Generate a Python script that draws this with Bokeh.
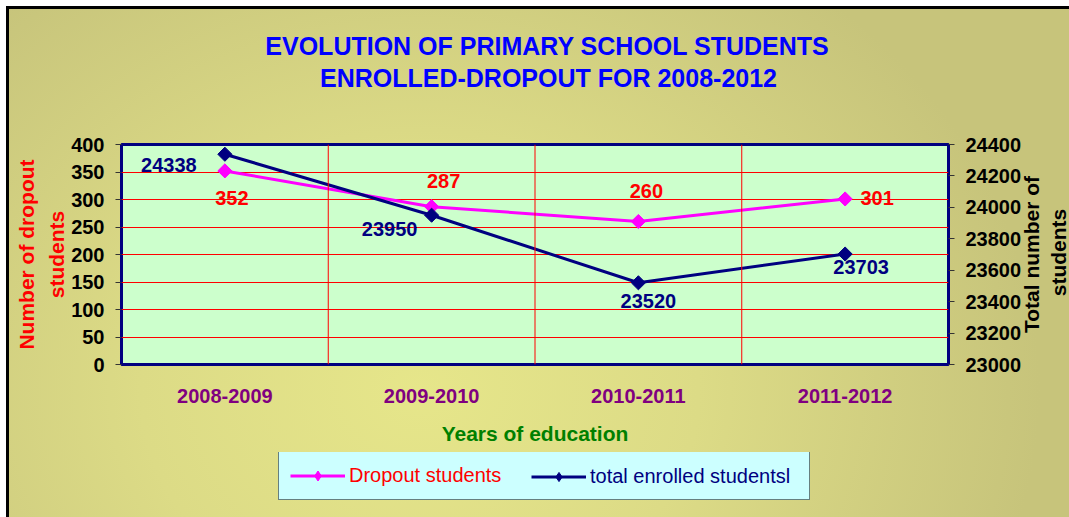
from bokeh.plotting import figure
from bokeh.layouts import column, row
from bokeh.models import (FactorRange, Range1d, LinearAxis, FixedTicker, Span, Label,
                          Legend, LegendItem)
from bokeh.core.properties import value
from bokeh.embed import file_html
from bokeh.resources import INLINE

# ---- data ----
years = ["2008-2009", "2009-2010", "2010-2011", "2011-2012"]
dropout = [352, 287, 260, 301]
enrolled = [24338, 23950, 23520, 23703]
left_ticks = [0, 50, 100, 150, 200, 250, 300, 350, 400]
right_ticks = [23000, 23200, 23400, 23600, 23800, 24000, 24200, 24400]
title_lines = ["EVOLUTION OF PRIMARY SCHOOL STUDENTS", "ENROLLED-DROPOUT FOR 2008-2012"]
series_names = ["Dropout students", "total enrolled studentsl"]
left_label = "Number of dropout\nstudents"
right_label_lines = ["Total number of", "students"]
x_label = "Years of education"

# ---- styles ----
FONT = "Liberation Sans"
PINK = "#FF00FF"
NAVY = "#000080"
drop_dx = [7, 12, 8, 32]
drop_dy = [27, -26, -31, -1]
enr_dx = [-56, -42, 10, 16]
enr_dy = [11, 14, 18, 13]
BG_CSS = {
    "background-color": "#D9D784",
    "background-image": "radial-gradient(ellipse 620px 520px at 420px 390px, "
                        "#E6E68A 0%, #DCDB86 45%, #C7C47B 100%)",
    "background-attachment": "fixed",
}
LEFT_EDGE = dict(BG_CSS, **{"margin-left": "6px", "border-left": "3px solid black"})


def blank_fig(w, h, bl, br, bt, bb, styles):
    f = figure(width=w, height=h, x_range=Range1d(0, 1), y_range=Range1d(0, 1),
               output_backend="svg", toolbar_location=None,
               x_axis_location=None, y_axis_location=None,
               min_border_left=bl, min_border_right=br,
               min_border_top=bt, min_border_bottom=bb)
    f.title.visible = False
    f.grid.visible = False
    f.outline_line_color = None
    f.background_fill_color = None
    f.border_fill_color = None
    f.styles = styles
    return f


def lab(f, x, y, text, color, size, angle=0.0):
    f.add_layout(Label(x=x, y=y, x_units="screen", y_units="screen", text=text,
                       text_align="center", text_baseline="middle", angle=angle,
                       text_color=color, text_font=FONT, text_font_style="bold",
                       text_font_size=size))


# ---------------- title strip ----------------
top = blank_fig(1063, 126, 112, 121, 0, 0,
                dict(LEFT_EDGE, **{"margin-top": "6px", "border-top": "3px solid black"}))
lab(top, 426, 90, title_lines[0], "#0000FF", "25px")
lab(top, 427, 58, title_lines[1], "#0000FF", "25px")

# ---------------- main chart ----------------
p = figure(width=1015, height=320, x_range=FactorRange(*years),
           y_range=Range1d(left_ticks[0], left_ticks[-1]),
           output_backend="svg", toolbar_location=None,
           min_border_left=112, min_border_right=73,
           min_border_top=12, min_border_bottom=88)
p.styles = dict(LEFT_EDGE)
p.title.visible = False
p.extra_y_ranges = {"total": Range1d(right_ticks[0], right_ticks[-1])}
p.border_fill_color = None
p.background_fill_color = "#CCFFCC"
p.outline_line_color = NAVY
p.outline_line_width = 3


def style_y(ax):
    ax.major_label_text_font = FONT
    ax.major_label_text_font_style = "bold"
    ax.major_label_text_font_size = "20px"
    ax.major_label_text_color = "black"
    ax.major_tick_out = 6
    ax.major_tick_in = 0
    ax.minor_tick_line_color = None
    ax.axis_line_color = None
    ax.major_tick_line_color = "#333333"
    ax.major_label_standoff = 11


ya = p.yaxis[0]
ya.ticker = FixedTicker(ticks=left_ticks)
style_y(ya)
ya.axis_label = left_label
ya.axis_label_text_font = FONT
ya.axis_label_text_font_style = "bold"
ya.axis_label_text_font_size = "21px"
ya.axis_label_standoff = 0
ya.axis_label_text_color = "#FF0000"
ya.axis_label_text_line_height = 1.3

ra = LinearAxis(y_range_name="total", ticker=FixedTicker(ticks=right_ticks))
style_y(ra)
p.add_layout(ra, "right")

xa = p.xaxis[0]
xa.major_label_text_font = FONT
xa.major_label_text_font_style = "bold"
xa.major_label_text_font_size = "20px"
xa.major_label_text_color = "#800080"
xa.major_tick_line_color = None
xa.axis_line_color = None
xa.major_label_standoff = 18
xa.axis_label = x_label
xa.axis_label_text_font = FONT
xa.axis_label_text_font_style = "bold"
xa.axis_label_text_font_size = "21px"
xa.axis_label_text_color = "#008000"
xa.axis_label_standoff = 16

p.xgrid.grid_line_color = None
p.ygrid.ticker = FixedTicker(ticks=left_ticks[1:-1])
p.ygrid.grid_line_color = "#FF0000"
p.ygrid.grid_line_width = 1
for i in range(1, len(years)):
    p.add_layout(Span(location=i, dimension="height", line_color="#FF0000", line_width=1))

p.line(years, dropout, line_color=PINK, line_width=3)
p.scatter(years, dropout, marker="square", angle=0.785398, size=10,
          fill_color=PINK, line_color=PINK)
p.line(years, enrolled, y_range_name="total", line_color=NAVY, line_width=3)
p.scatter(years, enrolled, y_range_name="total", marker="square", angle=0.785398,
          size=10, fill_color=NAVY, line_color=NAVY)

p.text(x=years, y=dropout, text=[str(v) for v in dropout], x_offset=drop_dx, y_offset=drop_dy,
       text_align="center", text_baseline="middle", text_color="#FF0000",
       text_font=value(FONT), text_font_style="bold", text_font_size="20px")
p.text(x=years, y=enrolled, text=[str(v) for v in enrolled], y_range_name="total",
       x_offset=enr_dx, y_offset=enr_dy,
       text_align="center", text_baseline="middle", text_color=NAVY,
       text_font=value(FONT), text_font_style="bold", text_font_size="20px")

# ---------------- right label strip ----------------
rs = blank_fig(48, 320, 0, 0, 12, 88, dict(BG_CSS))
lab(rs, 10, 110, right_label_lines[0], "black", "21px", angle=1.5708)
lab(rs, 37, 112, right_label_lines[1], "black", "21px", angle=1.5708)

# ---------------- legend strip ----------------
leg = blank_fig(1063, 65, 112, 121, 0, 0, dict(LEFT_EDGE))
# legend keys only (kept outside the strip's visible range)
k1 = leg.line(x=[0, 1], y=[5, 5], line_color=PINK, line_width=3)
m1 = leg.scatter(x=[0], y=[5], marker="diamond", size=19, fill_color=PINK, line_color=PINK)
k2 = leg.line(x=[0, 1], y=[5, 5], line_color=NAVY, line_width=3)
m2 = leg.scatter(x=[0], y=[5], marker="diamond", size=19, fill_color=NAVY, line_color=NAVY)
legA = Legend(items=[LegendItem(label=series_names[0], renderers=[k1, m1])],
              location=(157, 17), orientation="horizontal",
              background_fill_color="#CCFFFF", background_fill_alpha=1,
              border_line_color="black", border_line_width=1,
              padding=11, margin=0, glyph_width=55, glyph_height=25,
              label_height=25, label_width=449, label_standoff=4,
              label_text_font=FONT, label_text_font_size="20px",
              label_text_color="#FF0000")
legB = Legend(items=[LegendItem(label=series_names[1], renderers=[k2, m2])],
              location=(410, 29), orientation="horizontal",
              background_fill_alpha=0, border_line_alpha=0,
              padding=0, margin=0, glyph_width=55, glyph_height=23,
              label_height=23, label_standoff=4,
              label_text_font=FONT, label_text_font_size="20px",
              label_text_color=NAVY)
leg.add_layout(legA)
leg.add_layout(legB)

layout = column(top, row(p, rs, spacing=0), leg, spacing=0)
open("out.html", "w").write(file_html(layout, INLINE))
